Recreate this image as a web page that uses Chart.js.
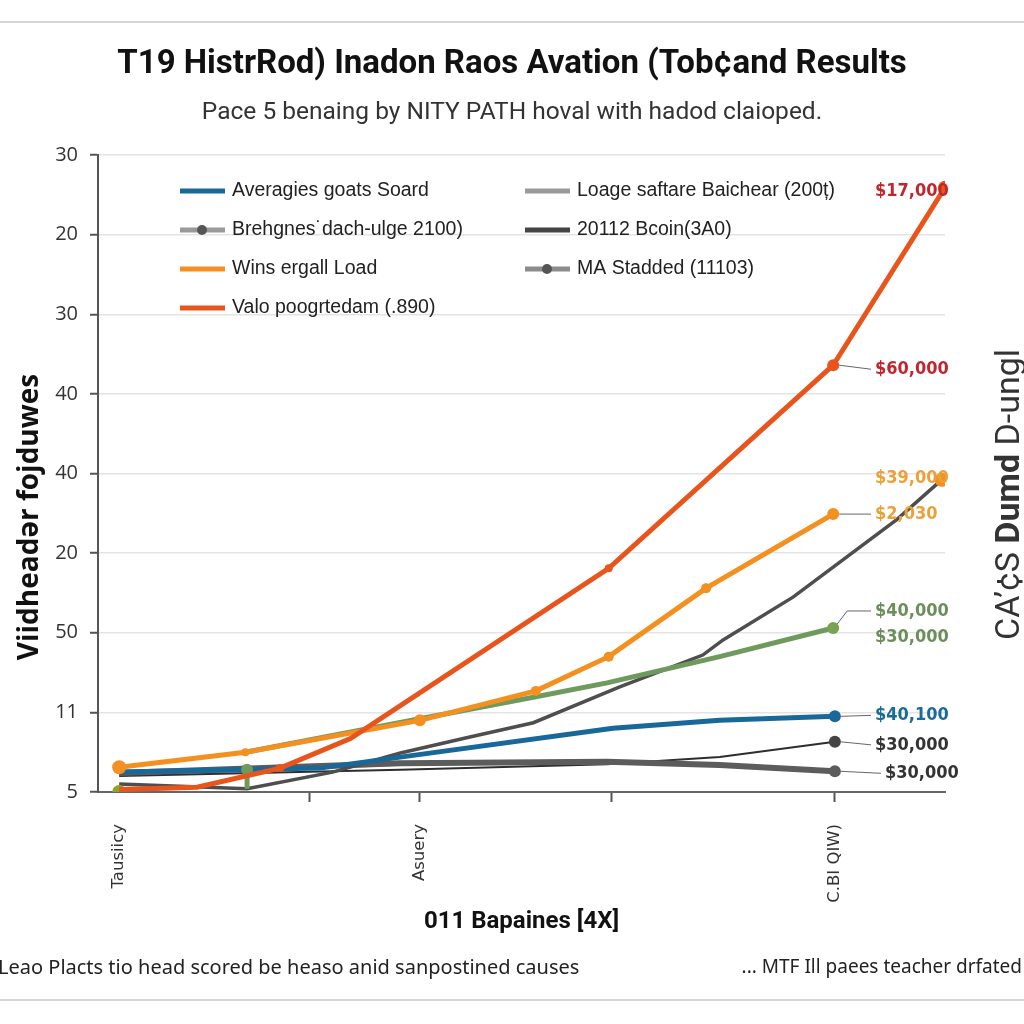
<!DOCTYPE html>
<html>
<head>
<meta charset="utf-8">
<script src="https://cdn.jsdelivr.net/npm/chart.js@4.4.1/dist/chart.umd.min.js"></script>
<style>
  html, body { margin: 0; padding: 0; background: #fff; }
  #wrap { width: 1024px; height: 1024px; }
</style>
</head>
<body>
<div id="wrap"><canvas id="lineChart" width="1024" height="1024"></canvas></div>
<script>
// ---- chart data ----
const titleText = 'T19 HistrRod) Inadon Raos Avation (Tob\u00a2and Results';
const subtitleText = 'Pace 5 benaing by NITY PATH hoval with hadod claioped.';
const yAxisTitle = 'Viidhead\u0259r fojduwes';
const xAxisTitle = '011 Bapaines [4X]';
const rightTitleParts = ['CA\u2019\u00a2S ', 'Dumd', ' D-ungl'];
const footLeft = 'Leao Placts tio head scored be heaso anid sanpostined causes';
const footRight = '... MTF Ill paees teacher drfated';

// y ticks bottom -> top (the labels on the picture are not monotonic)
const yTickLabels = ['5', '11', '50', '20', '40', '40', '30', '20', '30'];
// x axis: position along the timeline (0..100) and the label at each tick
const xTickValues = [2.5, 25, 38, 60.6, 87];
const xTickLabels = ['Tausiicy', '', 'Asuery', '', 'C.BI QIW)'];

const redX = [2.5, 11.7, 21.5, 29.8, 60.3, 86.8, 100];
const redY = [0.03, 0.06, 0.30, 0.67, 2.81, 5.36, 7.59];

const orangeX = [2.5, 17.4, 38.0, 51.7, 60.3, 71.8, 86.8];
const orangeY = [0.31, 0.50, 0.90, 1.27, 1.70, 2.56, 3.49];

const greenX = [2.5, 17.6, 17.6, 17.4, 38.0, 51.4, 60.1, 73.4, 86.8];
const greenY = [0.0, 0.04, 0.28, 0.50, 0.92, 1.19, 1.37, 1.70, 2.06];

const blueX = [2.5, 26.2, 37.2, 60.8, 73.4, 87.0];
const blueY = [0.25, 0.30, 0.46, 0.80, 0.90, 0.95];

const darkX = [2.5, 17.6, 27.7, 35.7, 43.9, 51.4, 61.6, 71.4, 73.8, 82.1, 94.3, 99.6];
const darkY = [0.10, 0.04, 0.25, 0.49, 0.69, 0.87, 1.32, 1.72, 1.91, 2.45, 3.42, 3.92];

const thickX = [2.5, 35.7, 60.1, 73.4, 87.0];
const thickY = [0.24, 0.36, 0.38, 0.34, 0.26];

const thinX = [2.5, 35.7, 60.1, 73.4, 87.0];
const thinY = [0.20, 0.28, 0.35, 0.44, 0.63];

const lightX = [2.5, 17.6, 35.7];
const lightY = [0.24, 0.28, 0.36];

const legendLabels = [
  'Averagies goats Soard',
  'Brehgnes\u02d9dach-ulge 2100)',
  'Wins ergall Load',
  'Valo poogrtedam (.890)',
  'Loage saftare Baichear (200\u021b)',
  '20112 Bcoin(3A0)',
  'MA Stadded (11103)'
];

const calloutTexts = ['$17,000', '$60,000', '$39,000', '$2,030', '$40,000', '$30,000', '$40,100', '$30,000', '$30,000'];

function pts(xs, ys) {
  return xs.map((x, i) => ({ x: x, y: ys[i] }));
}

// ---- colours ----
const RED = '#e8551c';
const ORANGE = '#f39020';
const GREEN = '#6f9a5e';
const BLUE = '#19689a';
const DARK = '#4e4e4e';
const THICK = '#5c5c5c';
const THIN = '#2e2e2e';
const LIGHT = '#9a9a9a';

const datasets = [
  { data: pts(redX, redY), borderColor: RED, backgroundColor: RED, borderWidth: 5,
    pointRadius: [0, 0, 4, 0, 4, 6, 7], order: 1 },
  { data: pts(orangeX, orangeY), borderColor: ORANGE, backgroundColor: ORANGE, borderWidth: 5,
    pointRadius: [7, 4, 6, 5, 5, 5, 6], order: 2 },
  { data: pts(greenX, greenY), borderColor: GREEN, backgroundColor: GREEN, borderWidth: 5,
    pointRadius: [7, 0, 6, 0, 0, 0, 0, 0, 6],
    pointBackgroundColor: ['#8ea52b', GREEN, GREEN, GREEN, GREEN, GREEN, GREEN, GREEN, '#7aa34f'],
    // the first run of the green line sits under the grey lines / orange line
    segment: { borderColor: ctx => (ctx.p0DataIndex === 0 || ctx.p0DataIndex === 2 ? 'rgba(0,0,0,0)' : undefined) },
    order: 3 },
  { data: pts(blueX, blueY), borderColor: BLUE, backgroundColor: BLUE, borderWidth: 5,
    pointRadius: [0, 0, 0, 0, 0, 6], order: 4 },
  { data: pts(darkX, darkY), borderColor: DARK, backgroundColor: DARK, borderWidth: 3.5,
    pointRadius: [0, 0, 0, 0, 0, 0, 0, 0, 0, 0, 0, 7],
    pointBackgroundColor: ORANGE, order: 5 },
  { data: pts(thickX, thickY), borderColor: THICK, backgroundColor: THICK, borderWidth: 6,
    pointRadius: [0, 0, 0, 0, 6], order: 6 },
  { data: pts(thinX, thinY), borderColor: THIN, backgroundColor: THIN, borderWidth: 2,
    pointRadius: [0, 0, 0, 0, 6], pointBackgroundColor: '#444', order: 7 },
  { data: pts(lightX, lightY), borderColor: LIGHT, backgroundColor: LIGHT, borderWidth: 5,
    pointRadius: 0, order: 8 }
];
datasets.forEach(d => { d.tension = 0; d.pointBorderWidth = 0; d.pointHoverRadius = 0; });

// legend swatches (two columns inside the plot)
const legendItems = [
  { col: 0, row: 0, color: BLUE, dot: false },
  { col: 0, row: 1, color: '#9a9a9a', dot: '#555' },
  { col: 0, row: 2, color: ORANGE, dot: false },
  { col: 0, row: 3, color: RED, dot: false },
  { col: 1, row: 0, color: '#9a9a9a', dot: false },
  { col: 1, row: 1, color: '#444', dot: false },
  { col: 1, row: 2, color: '#8c8c8c', dot: '#555' }
];

// callouts: which point they belong to, colour, offset and leader type
const callouts = [
  { ds: 0, pt: 6, color: '#c0272d', dy: 4, dx: 0, leader: false },
  { ds: 0, pt: 5, color: '#c0272d', dy: 4, dx: 0, leader: true },
  { ds: 4, pt: 11, color: '#eba13a', dy: -2, dx: 0, leader: false },
  { ds: 1, pt: 6, color: '#eba13a', dy: 0, dx: 0, leader: true },
  { ds: 2, pt: 8, color: '#6b8e5a', dy: -17, dx: 0, leader: 'bend' },
  { ds: 2, pt: 8, color: '#6b8e5a', dy: 9, dx: 0, leader: false },
  { ds: 3, pt: 5, color: '#1b6b98', dy: -1, dx: 0, leader: true },
  { ds: 6, pt: 4, color: '#333', dy: 3, dx: 0, leader: true },
  { ds: 5, pt: 4, color: '#333', dy: 2, dx: 10, leader: true }
];

const decorPlugin = {
  id: 'decor',
  beforeDraw(chart) {
    const c = chart.ctx;
    c.save();
    c.fillStyle = '#fff';
    c.fillRect(0, 0, chart.width, chart.height);
    c.strokeStyle = '#d6d6d6';
    c.lineWidth = 2;
    c.beginPath();
    c.moveTo(0, 22); c.lineTo(1024, 22);
    c.moveTo(0, 1000); c.lineTo(1024, 1000);
    c.stroke();
    c.restore();
  },
  afterDraw(chart) {
    const c = chart.ctx;
    const area = chart.chartArea;
    c.save();

    // legend inside the plot
    c.font = '19.5px "Liberation Sans", Arial, sans-serif';
    c.textBaseline = 'middle';
    legendItems.forEach((it, i) => {
      const x0 = it.col === 0 ? 180 : 525;
      const y = 191 + it.row * 39;
      c.strokeStyle = it.color;
      c.lineWidth = 5;
      c.beginPath();
      c.moveTo(x0, y); c.lineTo(x0 + 45, y);
      c.stroke();
      if (it.dot) {
        c.fillStyle = it.dot;
        c.beginPath();
        c.arc(x0 + 22, y, 5, 0, Math.PI * 2);
        c.fill();
      }
      c.fillStyle = '#222';
      c.textAlign = 'left';
      c.fillText(legendLabels[i], x0 + 52, y);
    });

    // value callouts at the right
    c.font = 'bold 18px "DejaVu Sans Condensed", "DejaVu Sans", sans-serif';
    c.textBaseline = 'middle';
    const labelX = area.right - 70;
    callouts.forEach((co, i) => {
      const p = chart.getDatasetMeta(co.ds).data[co.pt];
      const ty = p.y + co.dy;
      const tx = labelX + co.dx;
      if (co.leader) {
        c.strokeStyle = '#666';
        c.lineWidth = 1;
        c.beginPath();
        if (co.leader === 'bend') {
          c.moveTo(p.x + 4, p.y - 4);
          c.lineTo(p.x + 14, ty);
          c.lineTo(tx - 4, ty);
        } else {
          c.moveTo(p.x + 6, p.y);
          c.lineTo(tx - 4, ty);
        }
        c.stroke();
      }
      c.fillStyle = co.color;
      c.textAlign = 'left';
      c.fillText(calloutTexts[i], tx, ty);
    });

    // left axis title, rotated
    c.save();
    c.translate(30, 517);
    c.rotate(-Math.PI / 2);
    c.textAlign = 'center';
    c.textBaseline = 'middle';
    c.fillStyle = '#111';
    c.font = 'bold 28px "Open Sans", sans-serif';
    c.fillText(yAxisTitle, 0, 0);
    c.restore();

    // right-hand rotated title (mixed weights)
    c.save();
    c.translate(1010, 640);
    c.rotate(-Math.PI / 2);
    c.textAlign = 'left';
    c.textBaseline = 'middle';
    c.fillStyle = '#333';
    const fonts = ['34px Roboto, sans-serif', 'bold 34px Roboto, sans-serif', '34px Roboto, sans-serif'];
    let px = 0;
    rightTitleParts.forEach((part, i) => {
      c.font = fonts[i];
      c.fillText(part, px, 0);
      px += c.measureText(part).width;
    });
    c.restore();

    // footer
    c.fillStyle = '#222';
    c.textBaseline = 'middle';
    c.textAlign = 'left';
    c.font = '20px "Noto Sans", sans-serif';
    c.fillText(footLeft, -2, 968);
    c.textAlign = 'right';
    c.font = '19px "Noto Sans", sans-serif';
    c.fillText(footRight, 1022, 968);
    c.restore();
  }
};

new Chart(document.getElementById('lineChart'), {
  type: 'line',
  data: { datasets: datasets },
  plugins: [decorPlugin],
  options: {
    responsive: false,
    animation: false,
    events: [],
    layout: { padding: { top: 0, right: 0, bottom: 82, left: 0 } },
    plugins: {
      legend: { display: false },
      tooltip: { enabled: false },
      title: {
        display: true,
        text: titleText,
        color: '#111',
        font: { family: 'Roboto', size: 33, weight: 'bold' },
        padding: { top: 45, bottom: 0 }
      },
      subtitle: {
        display: true,
        text: subtitleText,
        color: '#333',
        font: { family: 'Roboto', size: 24.5 },
        padding: { top: 14, bottom: 27 }
      }
    },
    scales: {
      x: {
        type: 'linear',
        min: 0,
        max: 100,
        afterBuildTicks(scale) {
          scale.ticks = xTickValues.map(v => ({ value: v }));
        },
        afterFit(scale) { scale.height = 150; },
        ticks: {
          autoSkip: false,
          maxRotation: 90,
          minRotation: 90,
          padding: 22,
          color: '#333',
          font: { family: 'DejaVu Sans', size: 16.5 },
          callback(value, index) { return xTickLabels[index]; }
        },
        grid: {
          drawOnChartArea: false,
          drawTicks: true,
          tickLength: 10,
          tickWidth: 2,
          tickColor: ctx => (xTickLabels[ctx.index] === 'Tausiicy' ? 'rgba(0,0,0,0)' : '#555')
        },
        border: { color: '#666', width: 2 },
        title: {
          display: true,
          text: xAxisTitle,
          color: '#111',
          font: { family: 'Roboto', size: 24, weight: 'bold' },
          padding: { top: 0, bottom: 6 }
        }
      },
      y: {
        type: 'linear',
        min: 0,
        max: 8,
        afterFit(scale) { scale.width = 98; },
        ticks: {
          stepSize: 1,
          padding: 12,
          color: '#333',
          font: { family: 'Open Sans', size: 20 },
          callback(value) { return yTickLabels[value]; }
        },
        grid: {
          color: ctx => (ctx.tick && ctx.tick.value === 0 ? 'rgba(0,0,0,0)' : '#e4e4e4'),
          lineWidth: 1.5,
          tickLength: 8,
          tickColor: '#555',
          tickWidth: 2
        },
        border: { color: '#555', width: 2 }
      },
      // empty right-hand strip that holds the rotated right title
      yRight: {
        type: 'linear',
        position: 'right',
        afterFit(scale) { scale.width = 79; },
        ticks: { display: false },
        grid: { display: false, drawTicks: false },
        border: { display: false }
      }
    }
  }
});
</script>
</body>
</html>
